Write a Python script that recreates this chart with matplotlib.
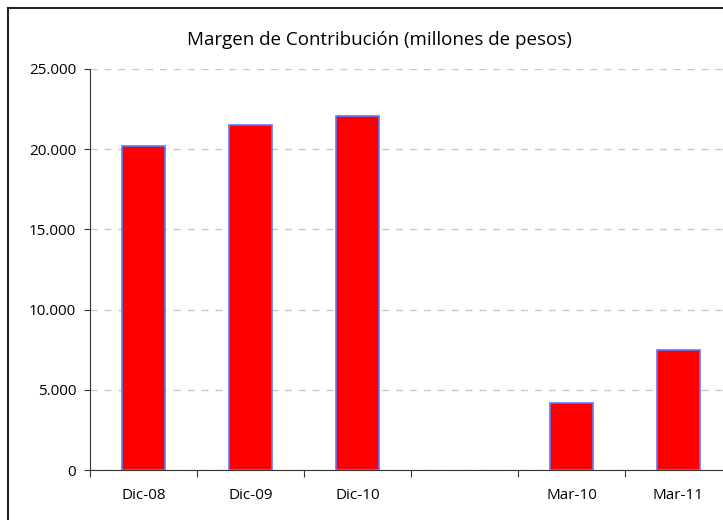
import matplotlib.pyplot as plt
import matplotlib.ticker as mticker
from matplotlib.lines import Line2D

# ── Datos ─────────────────────────────────────────────
periodos = ["Dic-08", "Dic-09", "Dic-10", "", "Mar-10", "Mar-11"]
margen = [20200, 21500, 22100, float("nan"), 4180, 7480]   # hueco vacío sin barra
yticks = [0, 5000, 10000, 15000, 20000, 25000]

plt.rcParams["font.family"] = ["Open Sans", "DejaVu Sans"]

fig = plt.figure(figsize=(7.23, 5.2), dpi=100)
fig.patch.set_facecolor("white")

# eje ocupa de x=90 a x=732 px (se sale por la derecha como en el original)
ax = fig.add_axes([90 / 723, 50 / 520, 642 / 723, 401 / 520])

x = list(range(len(periodos)))
ax.bar(x, margen, width=0.41, color="#FF0000", edgecolor="#5B7BFF", linewidth=1.2, zorder=3)

ax.set_xlim(-0.5, len(periodos) - 0.5)
ax.set_ylim(0, 25000)
ax.set_yticks(yticks)
ax.yaxis.set_major_formatter(mticker.FuncFormatter(lambda v, _: f"{v:,.0f}".replace(",", ".")))

# ticks del eje x entre categorías, etiquetas centradas
ax.set_xticks([i - 0.5 for i in range(len(periodos) + 1)])
ax.set_xticklabels([])
ax.set_xticks(x, minor=True)
ax.set_xticklabels(periodos, minor=True, fontsize=11)
ax.tick_params(axis="x", which="minor", length=0, pad=13)
ax.tick_params(axis="x", which="major", length=5, direction="out", color="#333333")
ax.tick_params(axis="y", length=4, direction="out", color="#333333", labelsize=11, pad=6)

ax.yaxis.grid(True, linestyle=(0, (5, 5)), color="#C8C8C8", linewidth=1)
ax.set_axisbelow(True)
for s in ["top", "right"]:
    ax.spines[s].set_visible(False)
ax.spines["left"].set_color("#333333")
ax.spines["bottom"].set_color("#333333")

fig.text(379 / 723, 1 - 40 / 520, "Margen de Contribución (millones de pesos)",
         ha="center", va="center", fontsize=13.5)

# marco del gráfico (se corta a la derecha y abajo)
fig.add_artist(Line2D([8 / 723, 8 / 723], [0, 1 - 8 / 520], color="#222222", linewidth=1.5))
fig.add_artist(Line2D([8 / 723, 1], [1 - 8 / 520, 1 - 8 / 520], color="#222222", linewidth=1.5))

plt.savefig("out.png", dpi=100)
